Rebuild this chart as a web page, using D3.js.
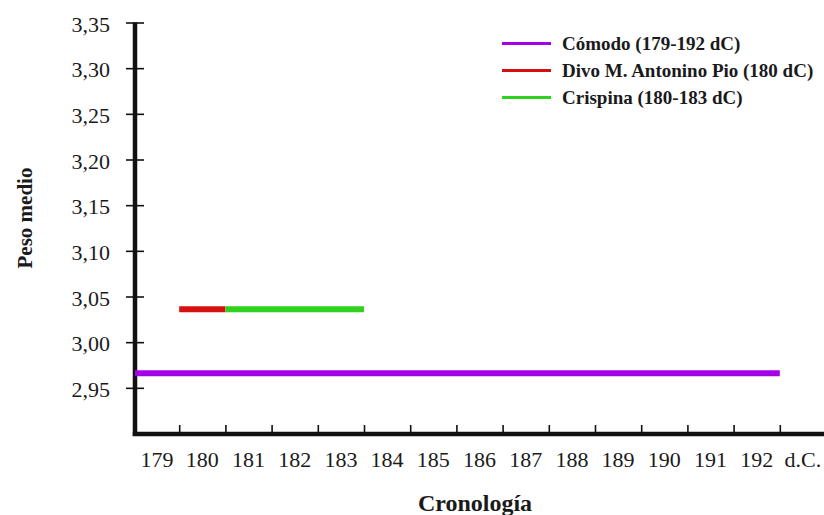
<!DOCTYPE html>
<html>
<head>
<meta charset="utf-8">
<script src="https://cdn.jsdelivr.net/npm/d3@7"></script>
<style>
  html, body { margin: 0; padding: 0; background: #fff; }
  svg { display: block; }
  text { font-family: 'Liberation Serif', 'Times New Roman', serif; fill: #1a1a1a; }
</style>
</head>
<body>
<svg id="chart" width="824" height="515"></svg>
<script>
// ---- data ----
const years = [179, 180, 181, 182, 183, 184, 185, 186, 187, 188, 189, 190, 191, 192];
const yearLabels = ["179", "180", "181", "182", "183", "184", "185", "186", "187", "188", "189", "190", "191", "192", "d.C."];
const yTicks = [2.95, 3.00, 3.05, 3.10, 3.15, 3.20, 3.25, 3.30, 3.35];
const seriesNames = ["Cómodo (179-192 dC)", "Divo M. Antonino Pio (180 dC)", "Crispina (180-183 dC)"];
const seriesStart = [179, 180, 181];
const seriesEnd = [192, 180, 183];
const seriesValue = [2.966, 3.036, 3.036];
const seriesColors = ["#a400e8", "#d61010", "#2fd21c"];

// ---- layout ----
const svg = d3.select("#chart");
const x = d3.scaleLinear().domain([179, 193]).range([133, 779.8]);
const y = d3.scaleLinear().domain([2.90, 3.35]).range([433.5, 22.5]);
const axisX = 135, axisY = 434;
const serif = "'Liberation Serif', 'Times New Roman', serif";

// Y axis
const yAxis = d3.axisLeft(y)
  .tickValues(yTicks)
  .tickSize(9)
  .tickPadding(16)
  .tickFormat(d => d3.format(".2f")(d).replace(".", ","));
const gy = svg.append("g").attr("transform", `translate(${axisX},0)`).call(yAxis);
gy.attr("font-family", null).attr("font-size", null);
gy.select(".domain").remove();
gy.selectAll(".tick line").attr("x1", 9).attr("stroke", "#111").attr("stroke-width", 1.6);
gy.selectAll(".tick text")
  .style("font-family", serif)
  .style("font-size", "22px")
  .attr("fill", "#1a1a1a")
  .attr("dy", "0.4em");
svg.append("line")
  .attr("x1", axisX).attr("x2", axisX)
  .attr("y1", y(3.35)).attr("y2", axisY + 2)
  .attr("stroke", "#111").attr("stroke-width", 4.5);

// X axis
const xAxis = d3.axisBottom(x)
  .tickValues(years.slice(1).concat([193]))
  .tickSize(-9)
  .tickFormat("");
const gx = svg.append("g").attr("transform", `translate(0,${axisY})`).call(xAxis);
gx.select(".domain").remove();
gx.selectAll(".tick line").attr("stroke", "#111").attr("stroke-width", 1.6);
svg.append("line")
  .attr("x1", axisX - 2.25).attr("x2", 824)
  .attr("y1", axisY).attr("y2", axisY)
  .attr("stroke", "#111").attr("stroke-width", 4.5);

svg.append("g").selectAll("text")
  .data(yearLabels)
  .join("text")
  .attr("x", (d, i) => x(179 + i + 0.5) + (i === 0 ? 1 : 0))
  .attr("y", 467)
  .attr("text-anchor", "middle")
  .style("font-family", serif)
  .style("font-size", "22px")
  .text(d => d);

// Axis titles
svg.append("text")
  .attr("x", 475).attr("y", 511)
  .attr("text-anchor", "middle")
  .style("font-family", serif)
  .style("font-size", "24px").style("font-weight", "bold")
  .text("Cronología");
svg.append("text")
  .attr("transform", "translate(32,218) rotate(-90)")
  .attr("text-anchor", "middle")
  .style("font-family", serif)
  .style("font-size", "21px").style("font-weight", "bold")
  .text("Peso medio");

// Data lines
const idx = d3.range(seriesNames.length);
svg.append("g").selectAll("line")
  .data(idx)
  .join("line")
  .attr("x1", i => x(seriesStart[i]) + (i === 0 ? 2 : 0))
  .attr("x2", i => x(seriesEnd[i] + 1))
  .attr("y1", i => y(seriesValue[i]))
  .attr("y2", i => y(seriesValue[i]))
  .attr("stroke", i => seriesColors[i])
  .attr("stroke-width", 6);

// Legend
const leg = svg.append("g").selectAll("g")
  .data(idx)
  .join("g")
  .attr("transform", i => `translate(502,${43.5 + i * 27})`);
leg.append("line")
  .attr("x1", 0).attr("x2", 49)
  .attr("stroke", i => seriesColors[i])
  .attr("stroke-width", 3);
leg.append("text")
  .attr("x", 60).attr("y", 0).attr("dy", "0.35em")
  .style("font-family", serif)
  .style("font-size", "19px").style("font-weight", "bold")
  .text(i => seriesNames[i]);
</script>
</body>
</html>
